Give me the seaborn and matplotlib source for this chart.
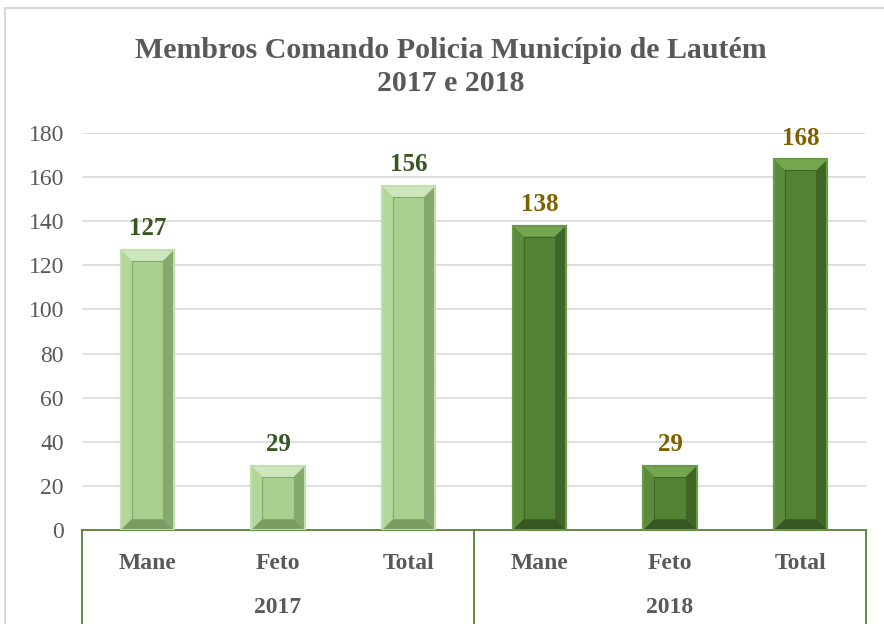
import matplotlib
matplotlib.use("Agg")
import matplotlib.pyplot as plt
from matplotlib.patches import Polygon, Rectangle
from matplotlib.lines import Line2D
import seaborn as sns
import pandas as pd

# datos del grafico
anos = ["2017", "2018"]
categorias = ["Mane", "Feto", "Total"]
valores_2017 = [127, 29, 156]
valores_2018 = [138, 29, 168]
y_ticks = [0, 20, 40, 60, 80, 100, 120, 140, 160, 180]

titulo = "Membros Comando Policia Município de Lautém\n2017 e 2018"

cor_barra = {"2017": "#A9D08E", "2018": "#548235"}
cor_borda = {"2017": "#C2DDAE", "2018": "#6A9A48"}
cor_topo = {"2017": "#CDE6BB", "2018": "#73A64F"}
cor_esq = {"2017": "#B3D69A", "2018": "#5B8B3A"}
cor_dir = {"2017": "#85A86D", "2018": "#3F6527"}
cor_baixo = {"2017": "#7A9C63", "2018": "#365720"}
cor_rotulo = {"2017": "#375623", "2018": "#7F6000"}
cinza = "#595959"
verde_eixo = "#548235"

linhas = []
for ano, vals in zip(anos, [valores_2017, valores_2018]):
    for cat, v in zip(categorias, vals):
        linhas.append({"ano": ano, "categoria": cat, "valor": v,
                       "chave": f"{cat}_{ano}"})
df = pd.DataFrame(linhas)

sns.set_style("white")
plt.rcParams["font.family"] = ["Liberation Serif", "DejaVu Serif"]

fig = plt.figure(figsize=(8.84, 6.24), dpi=100)
ax = fig.add_axes([82 / 884, 94 / 624, 784 / 884, 397 / 624])

sns.barplot(data=df, x="chave", y="valor", hue="ano", palette=cor_barra,
            dodge=False, width=0.41, legend=False, ax=ax, zorder=2)

# efeito de bisel nas barras
for barra, (_, linha) in zip(ax.patches, df.iterrows()):
    x0, y0 = barra.get_x(), barra.get_y()
    w, h = barra.get_width(), barra.get_height()
    x1, y1 = x0 + w, y0 + h
    dx, dy = 0.085, 5.0
    ano = linha["ano"]
    barra.set_edgecolor(cor_borda[ano])
    barra.set_linewidth(1.5)
    faces = [
        ([(x0, y1), (x1, y1), (x1 - dx, y1 - dy), (x0 + dx, y1 - dy)], cor_topo[ano]),
        ([(x0, y0), (x1, y0), (x1 - dx, y0 + dy), (x0 + dx, y0 + dy)], cor_baixo[ano]),
        ([(x0, y0), (x0, y1), (x0 + dx, y1 - dy), (x0 + dx, y0 + dy)], cor_esq[ano]),
        ([(x1, y0), (x1, y1), (x1 - dx, y1 - dy), (x1 - dx, y0 + dy)], cor_dir[ano]),
    ]
    for pts, c in faces:
        ax.add_patch(Polygon(pts, closed=True, facecolor=c, edgecolor="none", zorder=3))
    ax.add_patch(Rectangle((x0 + dx, y0 + dy), w - 2 * dx, h - 2 * dy,
                           facecolor=cor_barra[ano], edgecolor=cor_dir[ano],
                           linewidth=0.8, zorder=4))
    ax.add_patch(Rectangle((x0, y0), w, h, fill=False, edgecolor=cor_borda[ano],
                           linewidth=1.5, zorder=5))
    # rotulo de valor
    ax.text(x0 + w / 2, y1 + 4.5, f"{linha['valor']}", ha="center", va="bottom",
            fontsize=18, fontweight="bold", color=cor_rotulo[ano])

ax.set_ylim(0, 180)
ax.set_xlim(-0.5, len(df) - 0.5)
ax.set_yticks(y_ticks)
ax.yaxis.grid(True, color="#D9D9D9", linewidth=1.2, zorder=0)
ax.set_axisbelow(True)
ax.tick_params(axis="y", labelsize=17, labelcolor=cinza, length=0, pad=13)
ax.tick_params(axis="x", length=0, labelbottom=False)
ax.set_xlabel("")
ax.set_ylabel("")
for lado in ["left", "right", "top"]:
    ax.spines[lado].set_visible(False)
ax.spines["bottom"].set_color(verde_eixo)
ax.spines["bottom"].set_linewidth(1.3)

# eixo de categorias agrupado
trans = ax.get_xaxis_transform()
for i, cat in enumerate(df["categoria"]):
    ax.text(i, -0.085, cat, transform=trans, ha="center", va="center",
            fontsize=17, fontweight="bold", color=cinza)
for j, ano in enumerate(anos):
    ax.text(j * 3 + 1, -0.195, ano, transform=trans, ha="center", va="center",
            fontsize=17, fontweight="bold", color=cinza)
for xa in [0, 0.5, 1]:
    ax.add_line(Line2D([xa, xa], [0, -0.24], transform=ax.transAxes,
                       color=verde_eixo, linewidth=1.3, clip_on=False))

fig.text(0.51, 0.893, titulo, ha="center", va="center", fontsize=21.5,
         fontweight="bold", color=cinza, linespacing=1.3)

# moldura do grafico
fig.patches.append(Rectangle((5 / 884, -0.01), 0.995, 1 - 8 / 624 + 0.01,
                             transform=fig.transFigure, fill=False,
                             edgecolor="#D9D9D9", linewidth=1.5))

fig.savefig("out.png", dpi=100)
